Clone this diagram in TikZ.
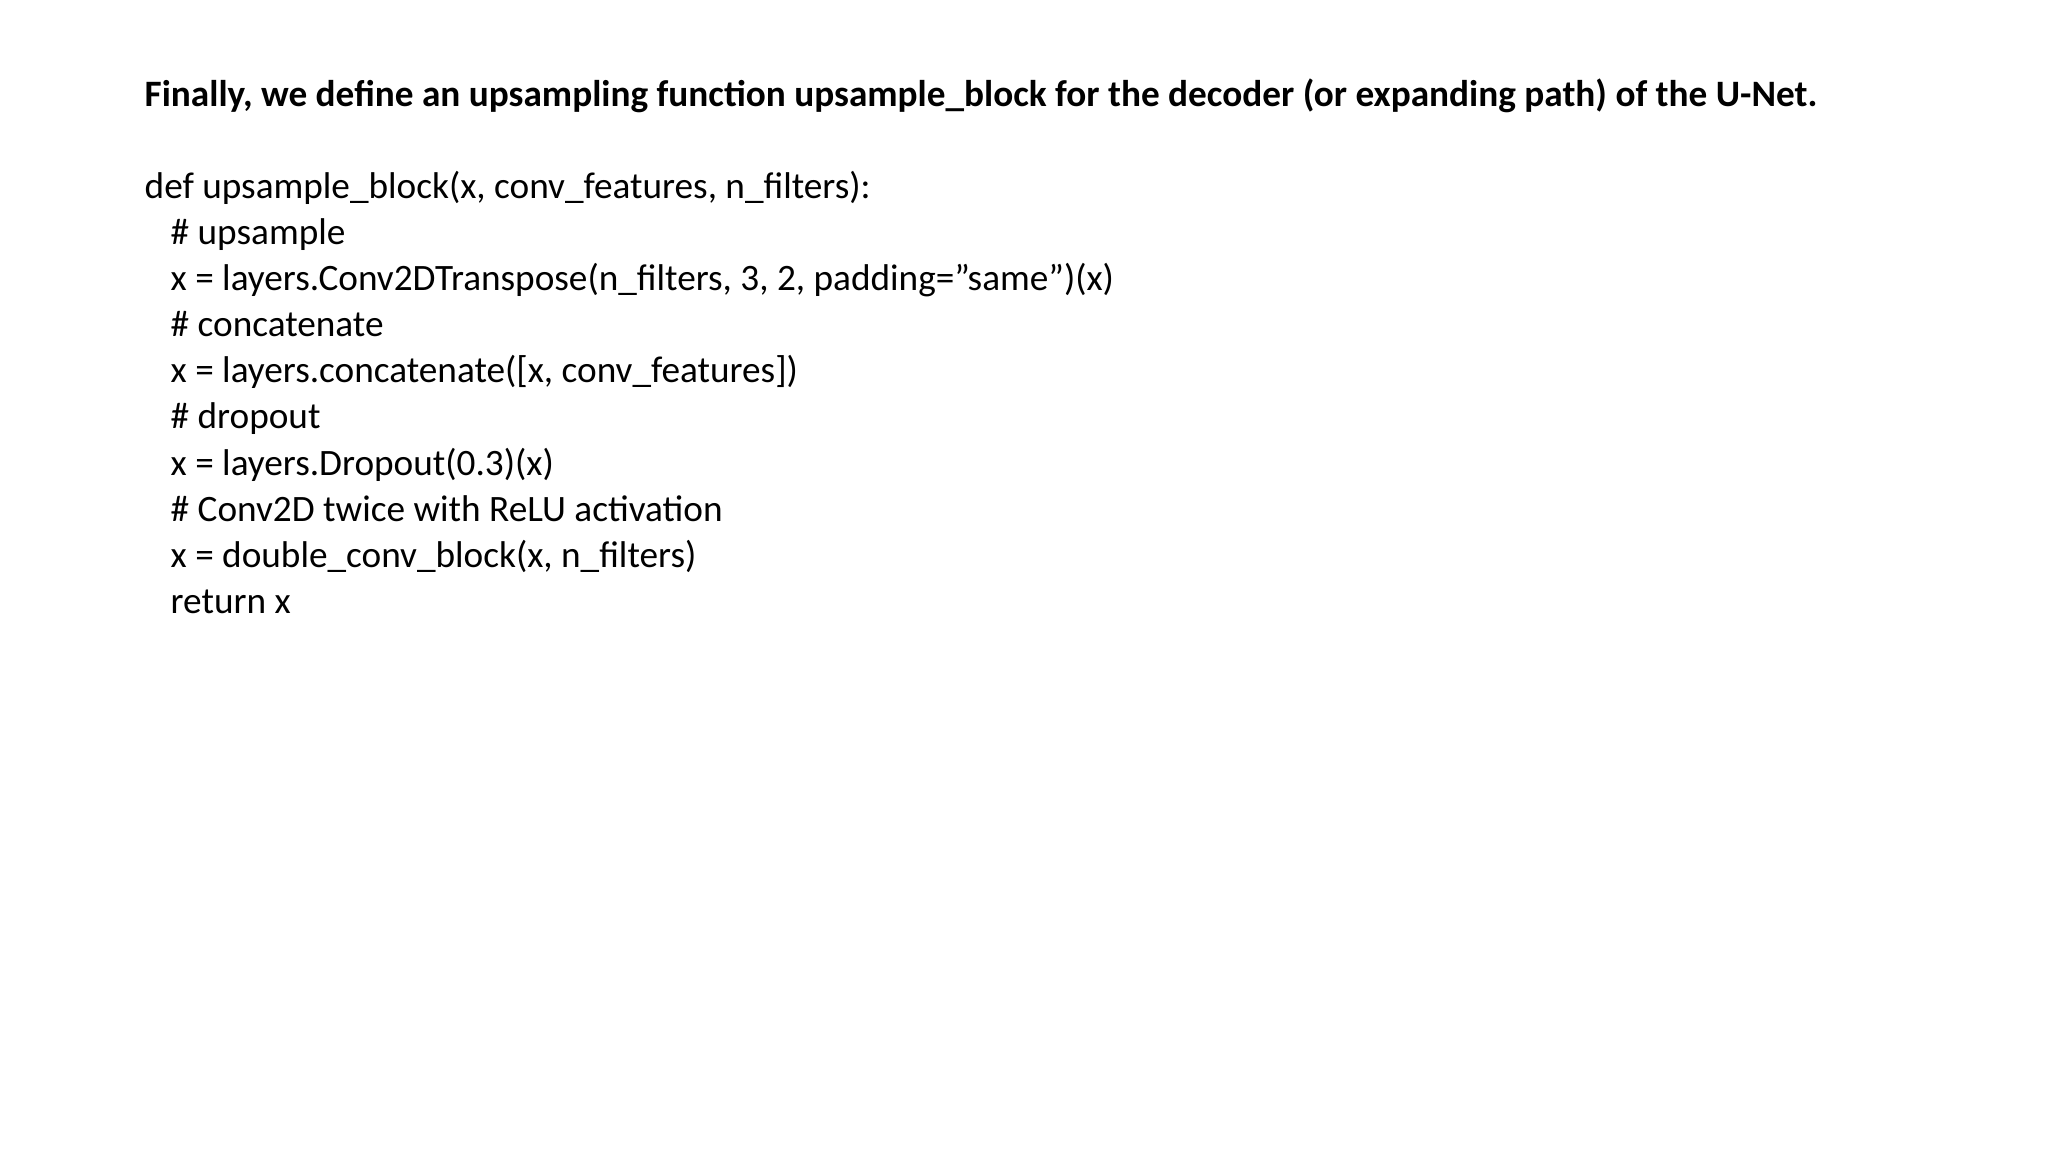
\documentclass[tikz,border=0pt]{standalone}
\usepackage{fontspec}
\setmainfont{Carlito}
\begin{document}
\begin{tikzpicture}[x=1cm,y=1cm,
  code/.style={anchor=base west,inner sep=0pt,font=\fontsize{10.6}{12}\selectfont}]
\useasboundingbox (0,0) rectangle (20.48,11.52);
\node[code,font=\fontsize{10.6}{12}\selectfont\bfseries] (title) at (1.44,10.45) {Finally, we define an upsampling function upsample\_block for the decoder (or expanding path) of the U-Net.};
\node[code] (l0) at (1.44,9.535) {def upsample\_block(x, conv\_features, n\_filters):};
\node[code] (l1) at (1.70,9.074) {\# upsample};
\node[code] (l2) at (1.70,8.613) {x = layers.Conv2DTranspose(n\_filters, 3, 2, padding="same")(x)};
\node[code] (l3) at (1.70,8.152) {\# concatenate};
\node[code] (l4) at (1.70,7.691) {x = layers.concatenate([x, conv\_features])};
\node[code] (l5) at (1.70,7.230) {\# dropout};
\node[code] (l6) at (1.70,6.769) {x = layers.Dropout(0.3)(x)};
\node[code] (l7) at (1.70,6.308) {\# Conv2D twice with ReLU activation};
\node[code] (l8) at (1.70,5.847) {x = double\_conv\_block(x, n\_filters)};
\node[code] (l9) at (1.70,5.386) {return x};
\end{tikzpicture}
\end{document}
